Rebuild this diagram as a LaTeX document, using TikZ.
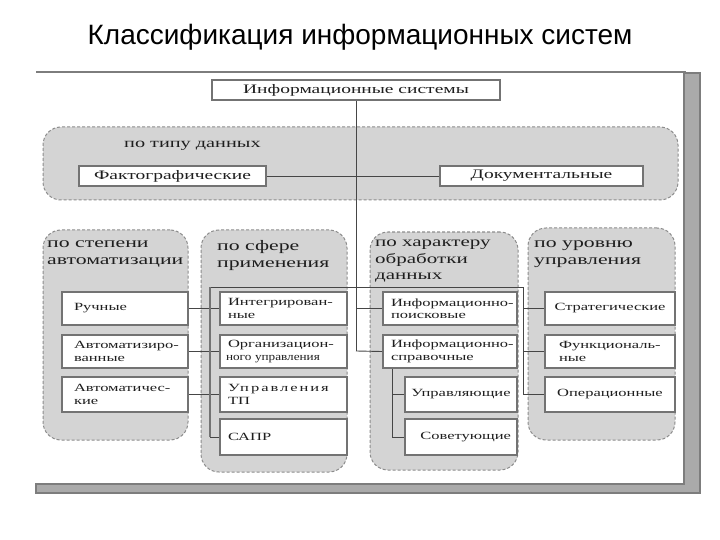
\documentclass[tikz,border=0pt]{standalone}
\usepackage{fontspec}
\setmainfont{Liberation Serif}
\newfontfamily\titlefont{Liberation Sans}
\newfontfamily\df[FakeStretch=1.5]{Liberation Serif}
\newfontfamily\dfn[FakeStretch=1.2]{Liberation Serif}
\exhyphenpenalty=10000
\hyphenpenalty=10000
\definecolor{grpfill}{RGB}{212,212,212}
\definecolor{grpline}{RGB}{140,140,140}
\definecolor{boxline}{RGB}{115,115,115}
\definecolor{conn}{RGB}{70,70,70}
\definecolor{framebar}{RGB}{170,170,170}
\definecolor{frameedge}{RGB}{125,125,125}
\definecolor{txt}{RGB}{30,30,30}
\tikzset{
  grp/.style={draw=grpline, dash pattern=on 3pt off 2pt, line width=1pt, fill=grpfill, rounded corners=18pt, inner sep=0pt},
  glabel/.style={anchor=north west, align=left, inner sep=0pt, text=txt, font=\df\fontsize{14.5}{17}\selectfont},
  box/.style={draw=boxline, line width=2pt, fill=white, inner xsep=8pt, inner ysep=1pt, align=left, text=txt, font=\df\fontsize{11}{12.5}\selectfont},
  bigbox/.style={box, align=center, font=\df\fontsize{13}{15}\selectfont, minimum height=20pt},
  colA/.style={box, inner xsep=4pt, text width=118pt, minimum height=33pt},
  colB/.style={box, inner xsep=4pt, text width=119pt, minimum height=33pt},
  colC/.style={box, inner xsep=3pt, text width=128pt, minimum height=33pt},
  colCs/.style={box, inner xsep=4pt, text width=104pt, minimum height=35pt},
  colD/.style={box, inner xsep=4pt, text width=122pt, minimum height=33pt},
  conn/.style={draw=conn, line width=0.9pt},
  brk/.style={draw=boxline, line width=2.2pt},
}
\begin{document}
\begin{tikzpicture}[x=1pt,y=-1pt]
\useasboundingbox (0,0) rectangle (720,540);
% title
\node[font=\titlefont\fontsize{28}{31}\selectfont, text=black] (title) at (360,37) {Классификация информационных систем};
% frame
\draw[frameedge, line width=2pt] (36,72) -- (686,72);
\filldraw[fill=framebar, draw=frameedge, line width=1.2pt] (684,73) -- (700,73) -- (700,493) -- (36,493) -- (36,484) -- (684,484) -- cycle;
% groups
\node[grp, minimum width=635pt, minimum height=73pt] (g1) at (360.5,163.5) {};
\node[grp, minimum width=145pt, minimum height=210pt] (gA) at (115.5,335) {};
\node[grp, minimum width=146pt, minimum height=242pt] (gB) at (274,351) {};
\node[grp, minimum width=148pt, minimum height=238pt] (gC) at (444,351) {};
\node[grp, minimum width=147pt, minimum height=212pt] (gD) at (601.5,334) {};
% group labels
\node[glabel, anchor=west, font=\df\fontsize{13.5}{16}\selectfont] (l1) at (124,146) {по типу данных};
\node[glabel] (lA) at (47,240) {по степени\\автоматизации};
\node[glabel] (lB) at (217,240) {по сфере\\применения};
\node[glabel, font=\df\fontsize{14}{16.5}\selectfont] (lC) at (375,240) {по характеру\\обработки\\данных};
\node[glabel] (lD) at (534,240) {по уровню\\управления};
% top box and group 1 boxes
\node[bigbox, minimum width=288pt] (top) at (356,90) {Информационные системы};
\node[bigbox, minimum width=187pt] (fakt) at (172.5,176) {Фактографические};
\node[bigbox, minimum width=203pt] (dok) at (541.5,176) {Документальные};
% coordinates
\coordinate (bl) at (210,287);
\coordinate (br) at (523,287);
% connectors (drawn before boxes)
\draw[conn] (fakt.east) -- (dok.west);
\draw[conn] (top.south) -- (356,351) coordinate (tend);
\draw[conn] (bl) -- (br);
% boxes column A
\node[colA] (a1) at (125,308.5) {\hspace*{8pt}Ручные};
\node[colA] (a2) at (125,351.5) {\hspace*{8pt}Автоматизиро-\\\hspace*{8pt}ванные};
\node[colA, minimum height=35pt] (a3) at (125,394.5) {\hspace*{8pt}Автоматичес-\\\hspace*{8pt}кие};
% column B
\node[colB] (b1) at (283.5,308.5) {\hspace*{4pt}Интегрирован-\\\hspace*{4pt}ные};
\node[colB] (b2) at (283.5,351.5) {\hspace*{4pt}Организацион-\\\hspace*{2pt}{\dfn ного управления}};
\node[colB, minimum height=35pt] (b3) at (283.5,394.5) {\hspace*{4pt}{\addfontfeature{LetterSpace=18}Управления}\\\hspace*{4pt}ТП};
\node[colB, minimum height=36pt] (b4) at (283.5,437) {\hspace*{4pt}САПР};
% column C
\node[colC] (c1) at (450,308.5) {\hspace*{5pt}Информационно-\\\hspace*{5pt}поисковые};
\node[colC] (c2) at (450,351.5) {\hspace*{5pt}Информационно-\\\hspace*{5pt}справочные};
\node[colCs, align=center] (c3) at (461,394.5) {Управляющие};
\node[colCs, align=right, minimum height=36pt] (c4) at (461,437) {Советующие\hspace*{2pt}};
% column D
\node[colD, align=center] (d1) at (610,308.5) {Стратегические};
\node[colD] (d2) at (610,351.5) {\hspace*{10pt}Функциональ-\\\hspace*{10pt}ные};
\node[colD, align=center, minimum height=35pt] (d3) at (610,394.5) {Операционные};
% connectors
\draw[conn] (a1.east) -- (b1.west);
\draw[conn] (a2.east) -- (b2.west);
\draw[conn] (a3.east) -- (b3.west);
\draw[brk] (bl) -- (bl |- b4.west);
\draw[conn] (bl |- b4.west) -- (b4.west);
\draw[conn] (tend |- c1.west) -- (c1.west);
\draw[conn] (tend) -- (c2.west);
\coordinate (cs) at ([xshift=10pt]c2.south west);
\draw[conn] (cs) |- (c4.west);
\draw[conn] (cs |- c3.west) -- (c3.west);
\draw[conn] (br) |- (d3.west);
\draw[conn] (br |- d1.west) -- (d1.west);
\draw[conn] (br |- d2.west) -- (d2.west);
\end{tikzpicture}
\end{document}
